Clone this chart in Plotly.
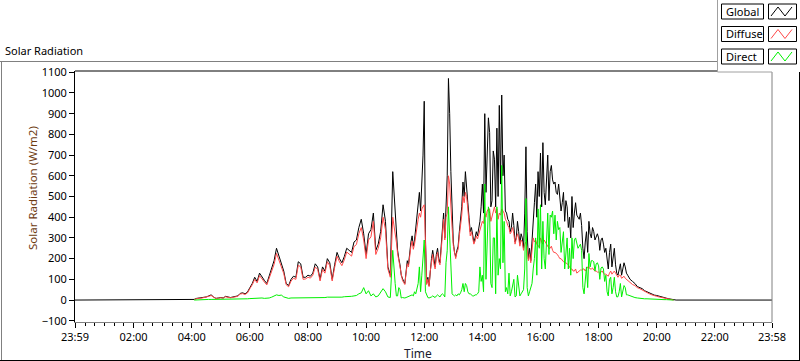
import plotly.graph_objects as go

# ---------------- data ----------------
# Base samples every 5 minutes from 04:00 (240 min) to 20:40 (1240 min)
START_MIN = 240
STEP_MIN = 5
DAY_START = -1           # 23:59 of previous day
DAY_END = 1438           # 23:58

global_rad = [
    0, 3, 8, 10, 10, 12, 15, 20, 25, 15, 8, 10,                      # 04
    12, 10, 18, 15, 12, 15, 18, 20, 32, 35, 30, 38,                  # 05
    60, 80, 110, 90, 130, 110, 95, 80, 120, 160, 190, 250,           # 06
    210, 170, 140, 80, 70, 100, 115, 110, 185, 175, 110, 110,        # 07
    120, 115, 130, 175, 160, 100, 160, 140, 200, 180, 100, 170,      # 08
    230, 200, 180, 210, 250, 240, 230, 280, 290, 350, 390, 320,      # 09
    220, 320, 340, 420, 240, 270, 330, 460, 380, 160, 120, 620,      # 10
    400, 240, 170, 100, 80, 190, 230, 310, 290, 390, 520, 560,       # 11
    960, 80, 70, 200, 190, 220, 200, 260, 420, 440, 1070, 620,       # 12
    280, 210, 260, 380, 570, 620, 470, 330, 300, 300, 310, 380,      # 13
    560, 900, 700, 810, 480, 680, 830, 940, 990, 700, 420, 380,      # 14
    350, 360, 300, 330, 320, 250, 740, 200, 190, 380, 560, 620,      # 15
    710, 760, 460, 700, 620, 580, 570, 510, 500, 470, 380, 450,      # 16
    400, 500, 420, 410, 390, 360, 200, 330, 380, 300, 330, 310,      # 17
    300, 290, 270, 250, 150, 270, 200, 170, 120, 175, 150, 160,      # 18
    120, 100, 90, 80, 65, 60, 55, 45, 40, 35, 28, 24,                # 19
    22, 18, 15, 12, 9, 6, 4, 0, 0,                                   # 20
]

diffuse_rad = [
    None, 3, 7, 9, 9, 11, 13, 18, 22, 14, 7, 9,
    11, 9, 16, 13, 11, 13, 16, 18, 29, 31, 27, 34,
    55, 74, 100, 83, 118, 100, 87, 73, 110, 145, 172, 225,
    190, 155, 128, 74, 64, 92, 105, 100, 168, 160, 100, 102,
    110, 106, 120, 160, 148, 92, 148, 130, 185, 166, 92, 157,
    212, 185, 166, 194, 232, 222, 212, 258, 268, 320, 350, 290,
    200, 290, 305, 380, 220, 250, 300, 400, 340, 150, 110, 400,
    330, 225, 160, 95, 75, 175, 215, 285, 270, 350, 420, 440,
    460, 75, 65, 185, 175, 205, 185, 240, 390, 400, 600, 430,
    265, 200, 245, 350, 500, 520, 440, 310, 290, 285, 295, 330,
    380, 420, 430, 440, 400, 450, 440, 420, 440, 420, 380, 350,
    330, 320, 290, 300, 290, 240, 280, 190, 180, 300, 290, 260,
    300, 270, 280, 260, 250, 240, 230, 220, 200, 190, 180, 175,
    160, 150, 140, 130, 140, 145, 150, 150, 160, 150, 145, 140,
    135, 135, 130, 125, 115, 140, 135, 130, 110, 120, 110, 105,
    95, 85, 75, 70, 60, 55, 48, 40, 35, 30, 25, 20,
    18, 15, 12, 10, 8, 5, 3, 0, None,
]

direct_rad = [
    None, 0, 1, 1, 2, 2, 2, 3, 3, 3, 3, 3,
    3, 4, 4, 4, 4, 4, 5, 5, 5, 5, 5, 6,
    7, 8, 10, 8, 12, 10, 8, 8, 10, 14, 18, 25,
    22, 24, 15, 10, 8, 10, 10, 10, 12, 10, 10, 12,
    10, 12, 10, 12, 12, 10, 12, 12, 14, 14, 12, 12,
    14, 14, 14, 16, 16, 16, 18, 20, 22, 30, 35, 60,
    30, 45, 20, 30, 15, 20, 40, 55, 40, 15, 12, 240,
    80, 20, 50, 12, 10, 15, 20, 25, 40, 60, 160, 120,
    290, 25, 10, 15, 15, 20, 20, 25, 25, 180, 450, 150,
    24, 25, 30, 35, 80, 80, 40, 30, 20, 25, 30, 160,
    120, 560, 250, 420, 60, 300, 450, 200, 650, 380, 60, 130,
    40, 100, 20, 60, 30, 50, 490, 20, 60, 150, 300, 440,
    460, 380, 150, 420, 410, 430, 410, 380, 350, 300, 150, 300,
    250, 300, 290, 280, 260, 240, 30, 160, 225, 190, 185, 175,
    165, 155, 150, 120, 20, 110, 60, 40, 16, 80, 40, 60,
    25, 20, 16, 12, 10, 8, 8, 6, 6, 5, 4, 4,
    3, 3, 3, 2, 2, 1, 1, 0, None,
]

# Extra in-between samples (every 5 min, offset 2.5 min) for the gusty
# period 11:00 - 19:00 (first at 11:02.5)
MID_START_MIN = 662.5
global_mid = [
    300, 200, 120, 90, 140, 170, 280, 260, 350, 470, 430, 700,       # 11
    300, 110, 150, 240, 160, 250, 180, 330, 300, 600, 900, 380,      # 12
    230, 240, 330, 450, 500, 560, 400, 350, 280, 330, 350, 450,      # 13
    420, 520, 880, 450, 720, 450, 500, 560, 600, 430, 390, 330,      # 14
    420, 280, 380, 270, 300, 420, 330, 250, 300, 470, 400, 500,      # 15
    450, 520, 600, 480, 650, 560, 520, 560, 430, 520, 480, 350,      # 16
    300, 350, 470, 400, 420, 250, 280, 230, 320, 350, 290, 320,      # 17
    240, 300, 230, 180, 230, 160, 250, 130, 160, 120, 180, 130,      # 18
]
diffuse_mid = [
    280, 190, 115, 85, 130, 160, 260, 245, 320, 390, 400, 450,
    280, 100, 140, 220, 150, 230, 170, 300, 290, 420, 560, 350,
    220, 230, 310, 410, 470, 500, 380, 330, 270, 310, 320, 370,
    370, 400, 440, 380, 430, 420, 390, 410, 430, 390, 360, 320,
    350, 270, 320, 260, 280, 270, 250, 220, 250, 280, 270, 260,
    280, 290, 270, 250, 260, 230, 225, 210, 200, 185, 180, 170,
    150, 140, 150, 135, 145, 150, 140, 160, 150, 155, 140, 135,
    130, 140, 125, 120, 130, 125, 140, 115, 120, 105, 115, 100,
]
direct_mid = [
    20, 60, 10, 10, 12, 15, 20, 20, 30, 80, 40, 200,
    40, 12, 12, 20, 12, 25, 15, 30, 15, 240, 300, 30,
    20, 20, 25, 50, 40, 70, 30, 25, 20, 25, 40, 90,
    40, 100, 450, 80, 300, 30, 120, 150, 180, 40, 30, 20,
    80, 15, 120, 20, 40, 150, 60, 40, 80, 200, 120, 250,
    150, 200, 330, 220, 400, 320, 290, 340, 230, 330, 250, 150,
    120, 200, 300, 250, 270, 60, 120, 60, 160, 190, 140, 180,
    100, 160, 90, 40, 100, 30, 110, 15, 40, 15, 70, 25,
]

series_names = ["Global", "Diffuse", "Direct"]
series_colors = ["#000000", "#ff4848", "#00f000"]

x_tick_vals = [-1, 120, 240, 360, 480, 600, 720, 840, 960, 1080, 1200, 1320, 1438]
x_tick_text = ["23:59", "02:00", "04:00", "06:00", "08:00", "10:00", "12:00",
               "14:00", "16:00", "18:00", "20:00", "22:00", "23:58"]
y_tick_vals = list(range(-100, 1101, 100))

# ---------------- merge samples in time order ----------------
rows = [(START_MIN + STEP_MIN * i, g, d, r)
        for i, (g, d, r) in enumerate(zip(global_rad, diffuse_rad, direct_rad))]
rows += [(MID_START_MIN + STEP_MIN * i, g, d, r)
         for i, (g, d, r) in enumerate(zip(global_mid, diffuse_mid, direct_mid))]
rows.sort(key=lambda row: row[0])
times = [row[0] for row in rows]
g_vals = [row[1] for row in rows]
d_vals = [row[2] for row in rows]
r_vals = [row[3] for row in rows]

# ---------------- figure ----------------
W, H = 800, 361
PL, PR, PT, PB = 75, 772, 71, 322      # plot area in pixels

def px(x):
    return (x - PL) / (PR - PL)

def py(y):
    return (PB - y) / (PB - PT)

fig = go.Figure()
fig.add_trace(go.Scatter(x=[DAY_START] + times + [DAY_END], y=[0] + g_vals + [0],
                         mode="lines", line=dict(color=series_colors[0], width=1),
                         name=series_names[0], showlegend=False, hoverinfo="skip"))
fig.add_trace(go.Scatter(x=times, y=d_vals, mode="lines",
                         line=dict(color=series_colors[1], width=1),
                         name=series_names[1], showlegend=False, hoverinfo="skip"))
fig.add_trace(go.Scatter(x=times, y=r_vals, mode="lines",
                         line=dict(color=series_colors[2], width=1),
                         name=series_names[2], showlegend=False, hoverinfo="skip"))

FONT = "Noto Sans, Open Sans, DejaVu Sans, sans-serif"

minor_vals = [m for m in range(20, DAY_END, 20) if m % 120 != 0]

fig.update_layout(
    width=W, height=H,
    margin=dict(l=PL, r=W - PR, t=PT, b=H - PB, pad=0),
    paper_bgcolor="white", plot_bgcolor="white",
    font=dict(family=FONT, size=11, color="black"),
    showlegend=False,
    xaxis=dict(range=[DAY_START, DAY_END], tickmode="array", tickvals=x_tick_vals,
               ticktext=x_tick_text, ticks="outside", ticklen=5, tickwidth=1,
               tickcolor="black", showline=True, linecolor="#808080", linewidth=1,
               showgrid=False, zeroline=False, tickfont=dict(size=11, color="black"),
               minor=dict(tickmode="array", tickvals=minor_vals, ticks="outside",
                          ticklen=3, tickcolor="black", tickwidth=1, showgrid=False)),
    yaxis=dict(range=[-106, 1106], tickmode="array", tickvals=y_tick_vals,
               ticks="outside", ticklen=5, tickwidth=1, tickcolor="black",
               showline=True, linecolor="black", linewidth=1, showgrid=False,
               zeroline=False, tickfont=dict(size=11, color="black")),
)

shapes = []
def hline(y, x0, x1, color, width=1):
    shapes.append(dict(type="line", xref="paper", yref="paper", x0=px(x0), x1=px(x1),
                       y0=py(y), y1=py(y), line=dict(color=color, width=width)))

def vline(x, y0, y1, color, width=1):
    shapes.append(dict(type="line", xref="paper", yref="paper", x0=px(x), x1=px(x),
                       y0=py(y0), y1=py(y1), line=dict(color=color, width=width)))

def rect(x0, y0, x1, y1, line_color, fill, width=1):
    shapes.append(dict(type="rect", xref="paper", yref="paper", x0=px(x0), x1=px(x1),
                       y0=py(y1), y1=py(y0), fillcolor=fill,
                       line=dict(color=line_color, width=width)))

# outer frame
hline(61.5, 0, 717, "#808080")
vline(1.5, 61.5, 361, "#808080")
hline(360.5, 0, 800, "#000000")
vline(799.5, 72, 361, "#000000")
# plot area border (top black, right gray)
hline(71, PL, PR, "#000000")
vline(PR, PT, PB, "#808080")

# legend panel
rect(717, -2, 802, 72, "rgba(0,0,0,0)", "white", 0)
vline(717.5, 0, 72, "#a0a0a0")
hline(72, 717.5, 772, "#a0a0a0")

annotations = []
row_h = 22.5
for i, (name, col) in enumerate(zip(series_names, series_colors)):
    top = 4 + i * row_h
    bot = top + 15
    rect(721.5, top, 763.5, bot, "black", "white")
    rect(768.5, top, 796.5, bot, "black", "white")
    pts = [(771, bot - 3), (778, top + 3), (785, bot - 3), (792, top + 3)]
    path = "M " + " L ".join(f"{px(a):.5f},{py(b):.5f}" for a, b in pts)
    shapes.append(dict(type="path", xref="paper", yref="paper", path=path,
                       line=dict(color=col, width=1)))
    annotations.append(dict(text=name, xref="paper", yref="paper", x=px(723.5),
                            y=py((top + bot) / 2), xanchor="left", yanchor="middle",
                            showarrow=False, font=dict(family=FONT, size=11, color="black")))

annotations.append(dict(text="Solar Radiation", xref="paper", yref="paper", x=px(3),
                        y=py(50.5), xanchor="left", yanchor="middle", showarrow=False,
                        font=dict(family=FONT, size=11, color="black")))
annotations.append(dict(text="Solar Radiation (W/m2)", xref="paper", yref="paper",
                        x=px(32), y=py(188), xanchor="center", yanchor="middle",
                        textangle=-90, showarrow=False,
                        font=dict(family=FONT, size=11.5, color="#6e3b12")))
annotations.append(dict(text="Time", xref="paper", yref="paper", x=px(417.5),
                        y=py(353), xanchor="center", yanchor="middle", showarrow=False,
                        font=dict(family=FONT, size=12, color="#1a1a2e")))

fig.update_layout(shapes=shapes, annotations=annotations)

fig.write_html("out.html", config={"displayModeBar": False},
               post_script="document.body.style.margin='0';document.body.style.overflow='hidden';")
